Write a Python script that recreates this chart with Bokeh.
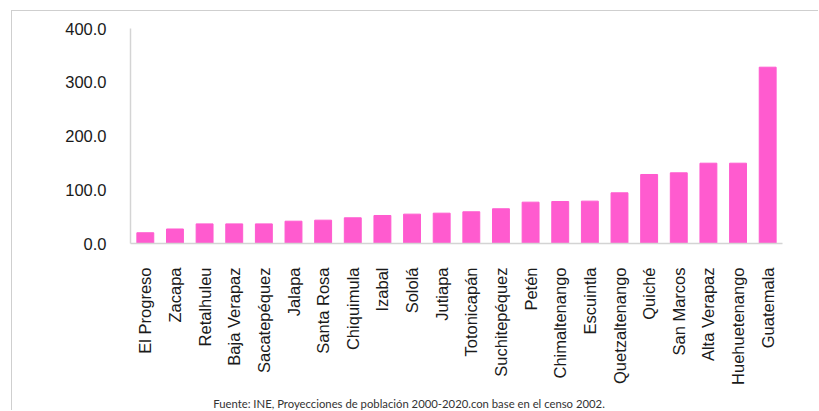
from bokeh.plotting import figure
from bokeh.models import FactorRange, Range1d, FixedTicker, NumeralTickFormatter, Div
from bokeh.layouts import column
from bokeh.embed import file_html
from bokeh.resources import INLINE
from math import pi

departamentos = ["El Progreso", "Zacapa", "Retalhuleu", "Baja Verapaz", "Sacatepéquez", "Jalapa",
                 "Santa Rosa", "Chiquimula", "Izabal", "Sololá", "Jutiapa", "Totonicapán",
                 "Suchitepéquez", "Petén", "Chimaltenango", "Escuintla", "Quetzaltenango",
                 "Quiché", "San Marcos", "Alta Verapaz", "Huehuetenango", "Guatemala"]
valores = [20.0, 27.0, 36.5, 36.5, 36.5, 41.5, 43.4, 47.8, 52.1, 54.6, 56.4, 59.0,
           64.6, 76.9, 78.1, 78.8, 94.3, 128.4, 131.5, 149.4, 149.4, 328.0]
y_ticks = [0, 100, 200, 300, 400]
fuente = "Fuente: INE, Proyecciones de población 2000-2020.con base en el censo 2002."

fig = figure(width=806, height=387, x_range=FactorRange(*departamentos), y_range=Range1d(0, 400),
             output_backend="svg", toolbar_location=None,
             min_border_left=118, min_border_right=36, min_border_top=17, min_border_bottom=155)
fig.outline_line_color = None
fig.grid.visible = False
fig.background_fill_color = "white"
fig.border_fill_color = "white"

fig.vbar(x=departamentos, top=valores, width=0.57, color="#FF5BCF")

text_color = "#1a1a1a"
ax = fig.yaxis[0]
ax.ticker = FixedTicker(ticks=y_ticks)
ax.formatter = NumeralTickFormatter(format="0.0")
ax.major_tick_line_color = None
ax.minor_tick_line_color = None
ax.axis_line_color = "#d4d4d4"
ax.axis_line_width = 1.5
ax.major_label_standoff = 18
ax.major_label_text_font = "Liberation Sans"
ax.major_label_text_font_size = "16.5px"
ax.major_label_text_color = text_color

bx = fig.xaxis[0]
bx.major_tick_line_color = None
bx.minor_tick_line_color = None
bx.axis_line_color = "#d4d4d4"
bx.axis_line_width = 1.5
bx.major_label_orientation = pi / 2
bx.major_label_standoff = 18
bx.major_label_text_font = "Liberation Sans"
bx.major_label_text_font_size = "16.5px"
bx.major_label_text_color = text_color

caption = Div(text=fuente, width=794, height=12, margin=0,
              styles={"font-family": "Lato", "font-size": "11.3px", "color": "#333333",
                      "text-align": "center", "line-height": "12px", "white-space": "nowrap"})

p = column(fig, caption, margin=(10, 0, 0, 11), spacing=0,
           styles={"border-left": "1.5px solid #cfcfcf", "border-top": "1.5px solid #cfcfcf",
                   "background-color": "white"})

open("out.html", "w").write(file_html(p, INLINE))
